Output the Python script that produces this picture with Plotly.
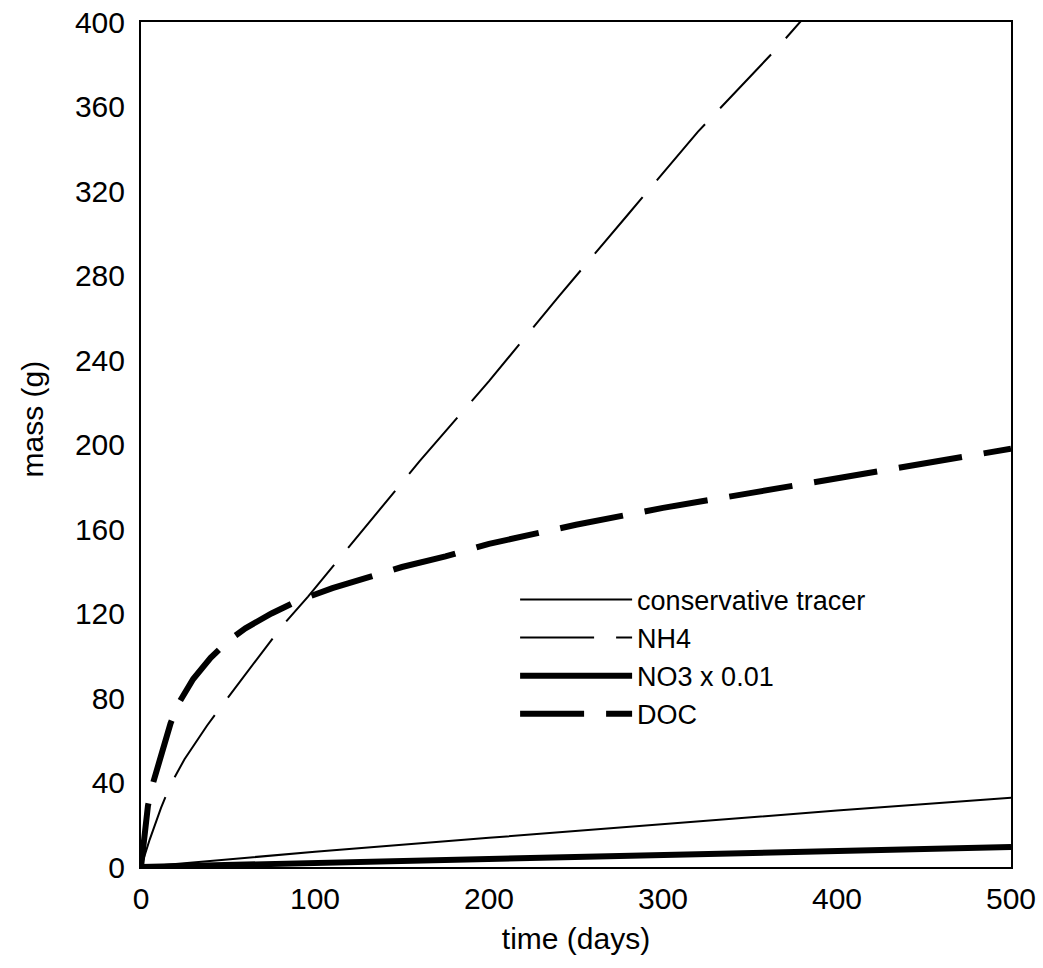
import plotly.graph_objects as go

# time axis (days) and masses (g) for each simulated species
tracer_t = [0, 50, 100, 200, 300, 400, 500]
tracer_m = [0, 3.6, 7.2, 13.8, 20.4, 26.7, 32.8]

nh4_t = [0, 5, 11.5, 17, 25, 38, 47, 60, 73, 81, 96, 121, 160, 200, 240, 280, 320, 366, 382]
nh4_m = [0, 13, 28, 39, 51, 67, 77, 91, 105, 114, 128, 153, 192, 230, 270, 309, 348, 388, 403]

no3_t = [0, 50, 100, 200, 300, 400, 500]
no3_m = [0, 0.9, 1.9, 3.9, 5.9, 7.8, 9.5]

doc_t = [0, 2, 4, 7, 12, 17, 22, 30, 40, 50, 60, 75, 90, 110, 130, 150, 175, 200,
         250, 300, 350, 400, 450, 500]
doc_m = [0, 17, 29, 40, 55, 68, 78, 89, 99, 107, 113, 120, 126, 132, 137, 142, 147, 153,
         162, 170, 177, 184, 191, 198]

series_names = ["conservative tracer", "NH4", "NO3 x 0.01", "DOC"]

x_ticks = [0, 100, 200, 300, 400, 500]
y_ticks = [0, 40, 80, 120, 160, 200, 240, 280, 320, 360, 400]

FONT = "Liberation Sans, Arial, Helvetica, sans-serif"

fig = go.Figure()
fig.add_trace(go.Scatter(x=tracer_t, y=tracer_m, mode="lines", name=series_names[0],
                         line=dict(color="black", width=2)))
fig.add_trace(go.Scatter(x=nh4_t, y=nh4_m, mode="lines", name=series_names[1],
                         line=dict(color="black", width=2, dash="74px,22px")))
fig.add_trace(go.Scatter(x=no3_t, y=no3_m, mode="lines", name=series_names[2],
                         line=dict(color="black", width=6)))
fig.add_trace(go.Scatter(x=doc_t, y=doc_m, mode="lines", name=series_names[3],
                         line=dict(color="black", width=6, dash="64px,22px")))

fig.update_layout(
    width=1043, height=968,
    margin=dict(l=141, r=32, t=22, b=101),
    paper_bgcolor="white", plot_bgcolor="white",
    font=dict(family=FONT, size=30, color="black"),
    showlegend=True,
    legend=dict(x=0.43, y=0.345, xanchor="left", yanchor="top",
                bgcolor="rgba(0,0,0,0)", font=dict(size=27),
                itemwidth=112, tracegroupgap=0),
    xaxis=dict(range=[0, 500], tickvals=x_ticks, ticks="", showgrid=False,
               zeroline=False, showline=True, linecolor="black", linewidth=2,
               mirror=True, ticklabelstandoff=4, automargin=False,
               title=dict(text="time (days)", standoff=14, font=dict(size=30))),
    yaxis=dict(range=[0, 400], tickvals=y_ticks, ticks="", showgrid=False,
               zeroline=False, showline=True, linecolor="black", linewidth=2,
               mirror=True, ticklabelstandoff=8, automargin=False),
    annotations=[dict(text="mass (g)", xref="paper", yref="paper",
                      x=-0.125, y=0.53, xanchor="center", yanchor="middle",
                      textangle=-90, showarrow=False, font=dict(size=30))],
)

fig.write_html("out.html")
